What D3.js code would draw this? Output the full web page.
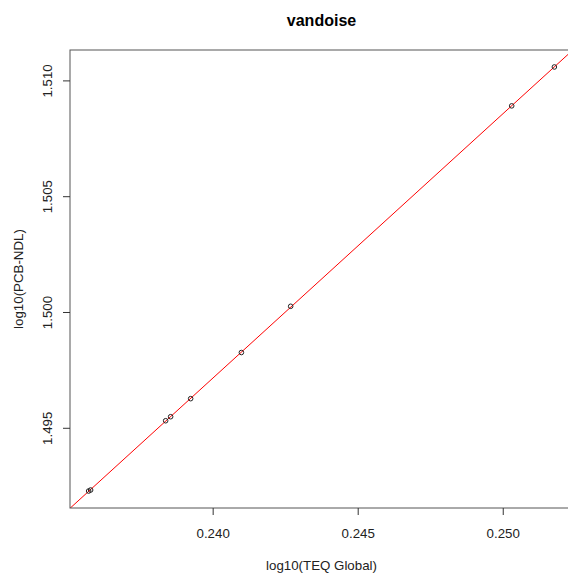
<!DOCTYPE html>
<html><head><meta charset="utf-8">
<script src="https://cdn.jsdelivr.net/npm/d3@7"></script>
<style>body{margin:0;background:#fff;overflow:hidden;} text{font-family:"Liberation Sans",Arial,sans-serif;}</style>
</head><body>
<svg id="c" width="568" height="578"></svg>
<script>
const title = "vandoise";
const xLabel = "log10(TEQ Global)";
const yLabel = "log10(PCB-NDL)";
const xVals = [0.235724, 0.235793, 0.238379, 0.238551, 0.239241, 0.240990, 0.242689, 0.250309, 0.251780];
const yVals = [1.492269, 1.492313, 1.495304, 1.495478, 1.496258, 1.498250, 1.500246, 1.508900, 1.510580];
const xTicks = [0.240, 0.245, 0.250];
const yTicks = [1.495, 1.500, 1.505, 1.510];

const L = 70, R = 573, T = 50, B = 508;
const svg = d3.select("#c");

function ext(v){const [a,b]=d3.extent(v);const d=(b-a)*0.04;return [a-d,b+d];}
const x = d3.scaleLinear().domain(ext(xVals)).range([L,R]);
const y = d3.scaleLinear().domain(ext(yVals)).range([B,T]);

svg.append("defs").append("clipPath").attr("id","clip")
  .append("rect").attr("x",L).attr("y",T).attr("width",R-L).attr("height",B-T);

// regression line
const mx = d3.mean(xVals), my = d3.mean(yVals);
let sxy=0,sxx=0;
xVals.forEach((v,i)=>{sxy+=(v-mx)*(yVals[i]-my);sxx+=(v-mx)*(v-mx);});
const slope = sxy/sxx, icpt = my - slope*mx;
const [x0,x1] = x.domain();
svg.append("line").attr("clip-path","url(#clip)")
  .attr("x1",x(x0)).attr("y1",y(icpt+slope*x0))
  .attr("x2",x(x1)).attr("y2",y(icpt+slope*x1))
  .attr("stroke","#ff0000").attr("stroke-width",1);

// points
svg.append("g").selectAll("circle").data(xVals).join("circle")
  .attr("cx",(d)=>x(d)).attr("cy",(d,i)=>y(yVals[i])).attr("r",2.3)
  .attr("fill","none").attr("stroke","#222").attr("stroke-width",1);

// frame
svg.append("rect").attr("x",L).attr("y",T).attr("width",R-L).attr("height",B-T)
  .attr("fill","none").attr("stroke","#555").attr("stroke-width",1);

// axes
const xa = svg.append("g").attr("transform",`translate(0,${B})`)
  .call(d3.axisBottom(x).tickValues(xTicks).tickFormat(d3.format(".3f")).tickSize(7).tickSizeOuter(0));
const ya = svg.append("g").attr("transform",`translate(${L},0)`)
  .call(d3.axisLeft(y).tickValues(yTicks).tickFormat(d3.format(".3f")).tickSize(7).tickSizeOuter(0));
[xa,ya].forEach(g=>{g.select(".domain").remove();g.selectAll("line").attr("stroke","#333");
  g.selectAll("text").attr("font-size",13.3).attr("fill","#222").attr("font-family","Liberation Sans, Arial, sans-serif");});
xa.selectAll("text").attr("dy",null).attr("y",30);
ya.selectAll(".tick text").attr("x",null).attr("dy",null).attr("y",0)
  .attr("text-anchor","middle").attr("transform","translate(-18,0) rotate(-90)");

svg.append("text").attr("x",(L+R)/2).attr("y",570).attr("text-anchor","middle")
  .attr("font-size",13.3).attr("fill","#222").text(xLabel);
svg.append("text").attr("transform",`translate(23,${(T+B)/2}) rotate(-90)`).attr("text-anchor","middle")
  .attr("font-size",13.3).attr("fill","#222").text(yLabel);
svg.append("text").attr("x",(L+R)/2).attr("y",26).attr("text-anchor","middle")
  .attr("font-size",16).attr("font-weight","bold").attr("fill","#000").text(title);
</script>
</body></html>
